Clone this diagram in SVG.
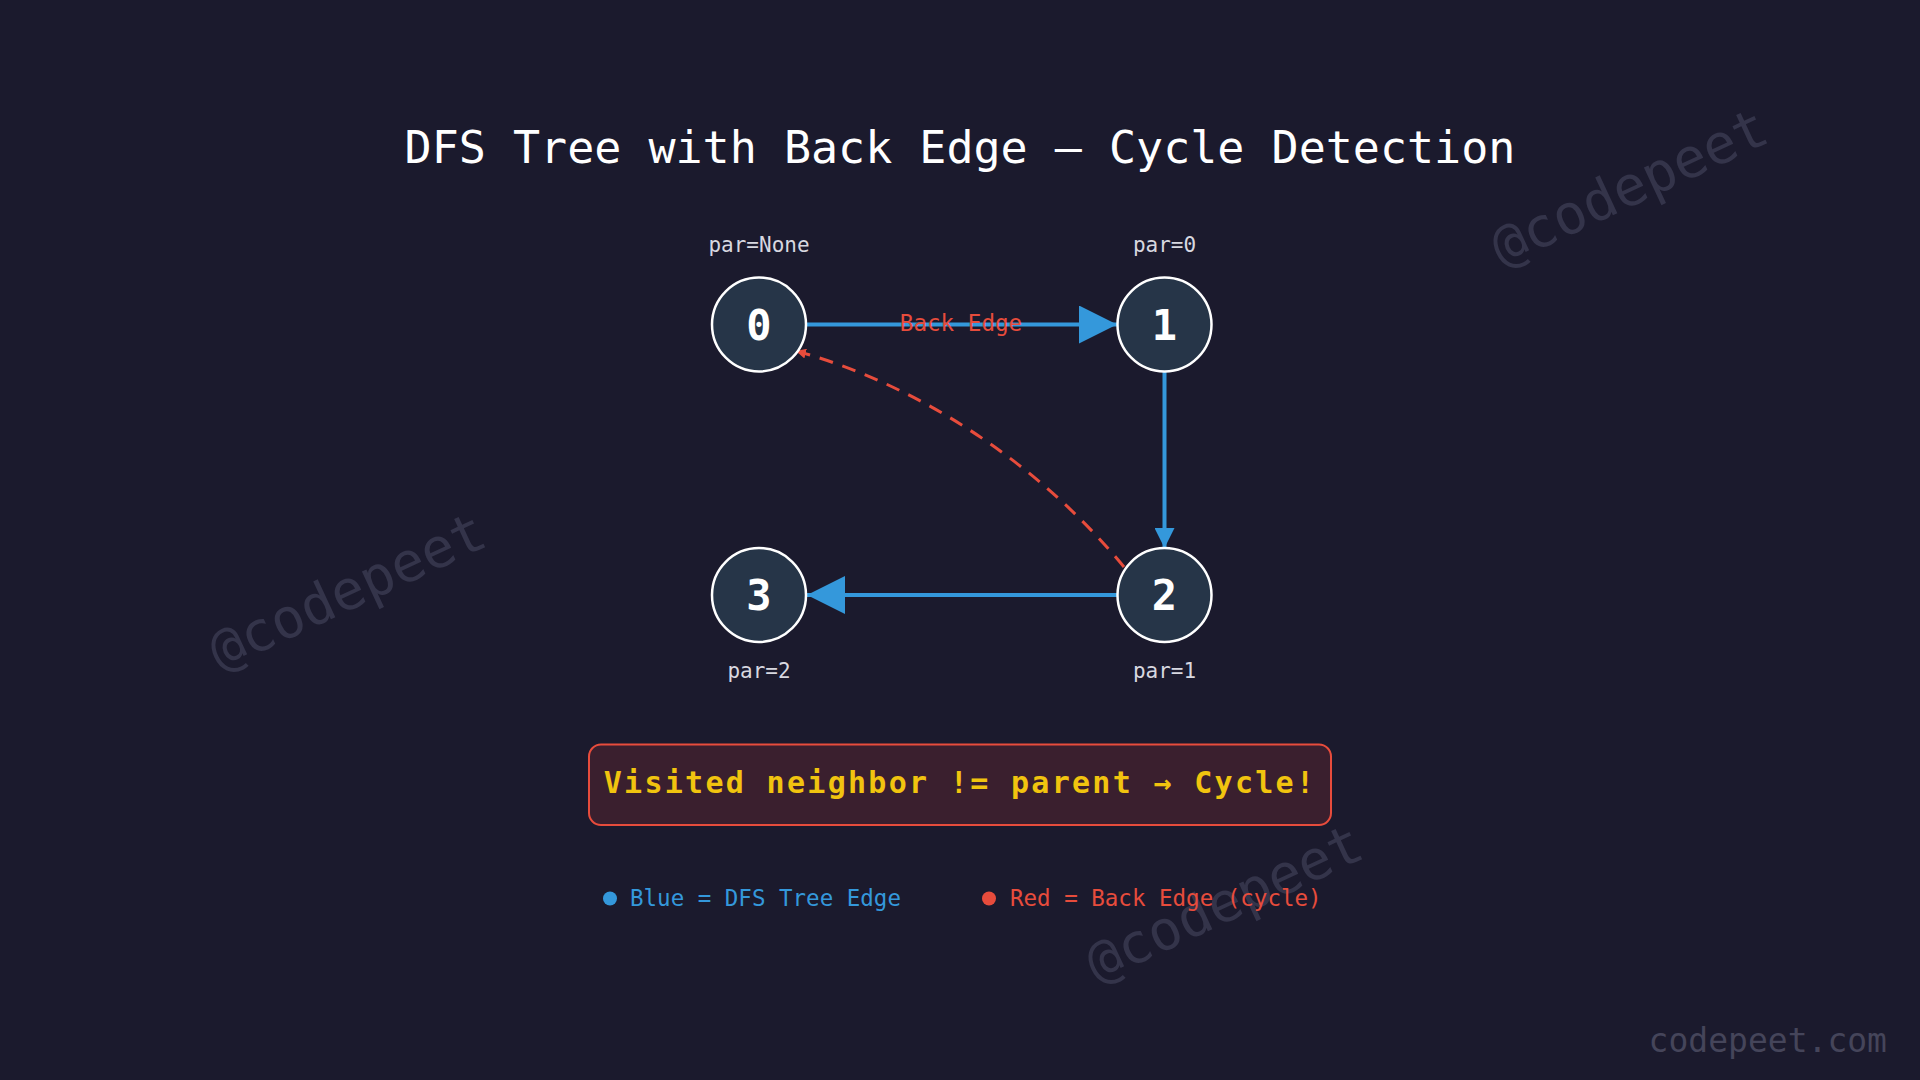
<svg xmlns="http://www.w3.org/2000/svg" width="1920" height="1080" viewBox="0 0 1920 1080">
<defs>
<style>
text{font-family:"DejaVu Sans Mono",monospace}
.node circle{fill:#263548;stroke:#fff;stroke-width:2.5}
.node text{fill:#fff;font-size:42px;font-weight:bold;text-anchor:middle}
.par{fill:#d8d8e0;font-size:21px;text-anchor:middle}
.wm{fill:#34344a;font-size:55px;text-anchor:middle}
.tree{stroke:#3498db;stroke-width:4;fill:none}
</style>
<marker id="ab" viewBox="0 0 10 10" refX="10" refY="5" markerWidth="38" markerHeight="38" orient="auto" markerUnits="userSpaceOnUse"><path d="M0,0L10,5L0,10Z" fill="#3498db"/></marker>
<marker id="as" viewBox="0 0 10 10" refX="10" refY="5" markerWidth="20" markerHeight="20" orient="auto" markerUnits="userSpaceOnUse"><path d="M0,0L10,5L0,10Z" fill="#3498db"/></marker>
<marker id="ar" viewBox="0 0 10 10" refX="10" refY="5" markerWidth="10" markerHeight="10" orient="auto" markerUnits="userSpaceOnUse"><path d="M0,0L10,5L0,10Z" fill="#e74c3c"/></marker>
</defs>
<rect width="1920" height="1080" fill="#1b1a2d"/>
<text class="wm" transform="translate(1637,204) rotate(-25)">@codepeet</text>
<text class="wm" transform="translate(355,608) rotate(-25)">@codepeet</text>
<text class="wm" transform="translate(1232,920) rotate(-25)">@codepeet</text>
<text x="1887" y="1052" fill="#45455a" font-size="33" text-anchor="end">codepeet.com</text>
<text x="960" y="163" fill="#fff" font-size="45" text-anchor="middle">DFS Tree with Back Edge — Cycle Detection</text>
<g id="connectors">
<line class="tree" x1="807" y1="324.5" x2="1117" y2="324.5" marker-end="url(#ab)"/>
<line class="tree" x1="1164.5" y1="372" x2="1164.5" y2="548" marker-end="url(#as)"/>
<line class="tree" x1="1117" y1="595" x2="807" y2="595" marker-end="url(#ab)"/>
<path d="M1124,567 C1040,465 920,385 796,351" fill="none" stroke="#e74c3c" stroke-width="3" stroke-dasharray="14,10" marker-end="url(#ar)"/>
<text x="961" y="331" fill="#e74c3c" font-size="22.6" text-anchor="middle">Back Edge</text>
</g>
<g id="n0" class="node"><circle cx="759" cy="324.5" r="47"/><text x="759" y="340">0</text></g>
<g id="n1" class="node"><circle cx="1164.5" cy="324.5" r="47"/><text x="1164.5" y="340">1</text></g>
<g id="n2" class="node"><circle cx="1164.5" cy="595" r="47"/><text x="1164.5" y="610">2</text></g>
<g id="n3" class="node"><circle cx="759" cy="595" r="47"/><text x="759" y="610">3</text></g>
<text class="par" x="759" y="252">par=None</text>
<text class="par" x="1164.5" y="252">par=0</text>
<text class="par" x="759" y="678">par=2</text>
<text class="par" x="1164.5" y="678">par=1</text>
<g id="note">
<rect x="589" y="744.5" width="742" height="80.5" rx="12" fill="#3a1f2e" stroke="#e74c3c" stroke-width="2"/>
<text x="960" y="793" fill="#f1c40f" font-size="30" font-weight="bold" text-anchor="middle" letter-spacing="2.3">Visited neighbor != parent → Cycle!</text>
</g>
<g id="legend">
<circle cx="610" cy="898.5" r="7" fill="#3498db"/>
<text x="630" y="906" fill="#3498db" font-size="22.5">Blue = DFS Tree Edge</text>
<circle cx="989" cy="898.5" r="7" fill="#e74c3c"/>
<text x="1010" y="906" fill="#e74c3c" font-size="22.5">Red = Back Edge (cycle)</text>
</g>
</svg>
